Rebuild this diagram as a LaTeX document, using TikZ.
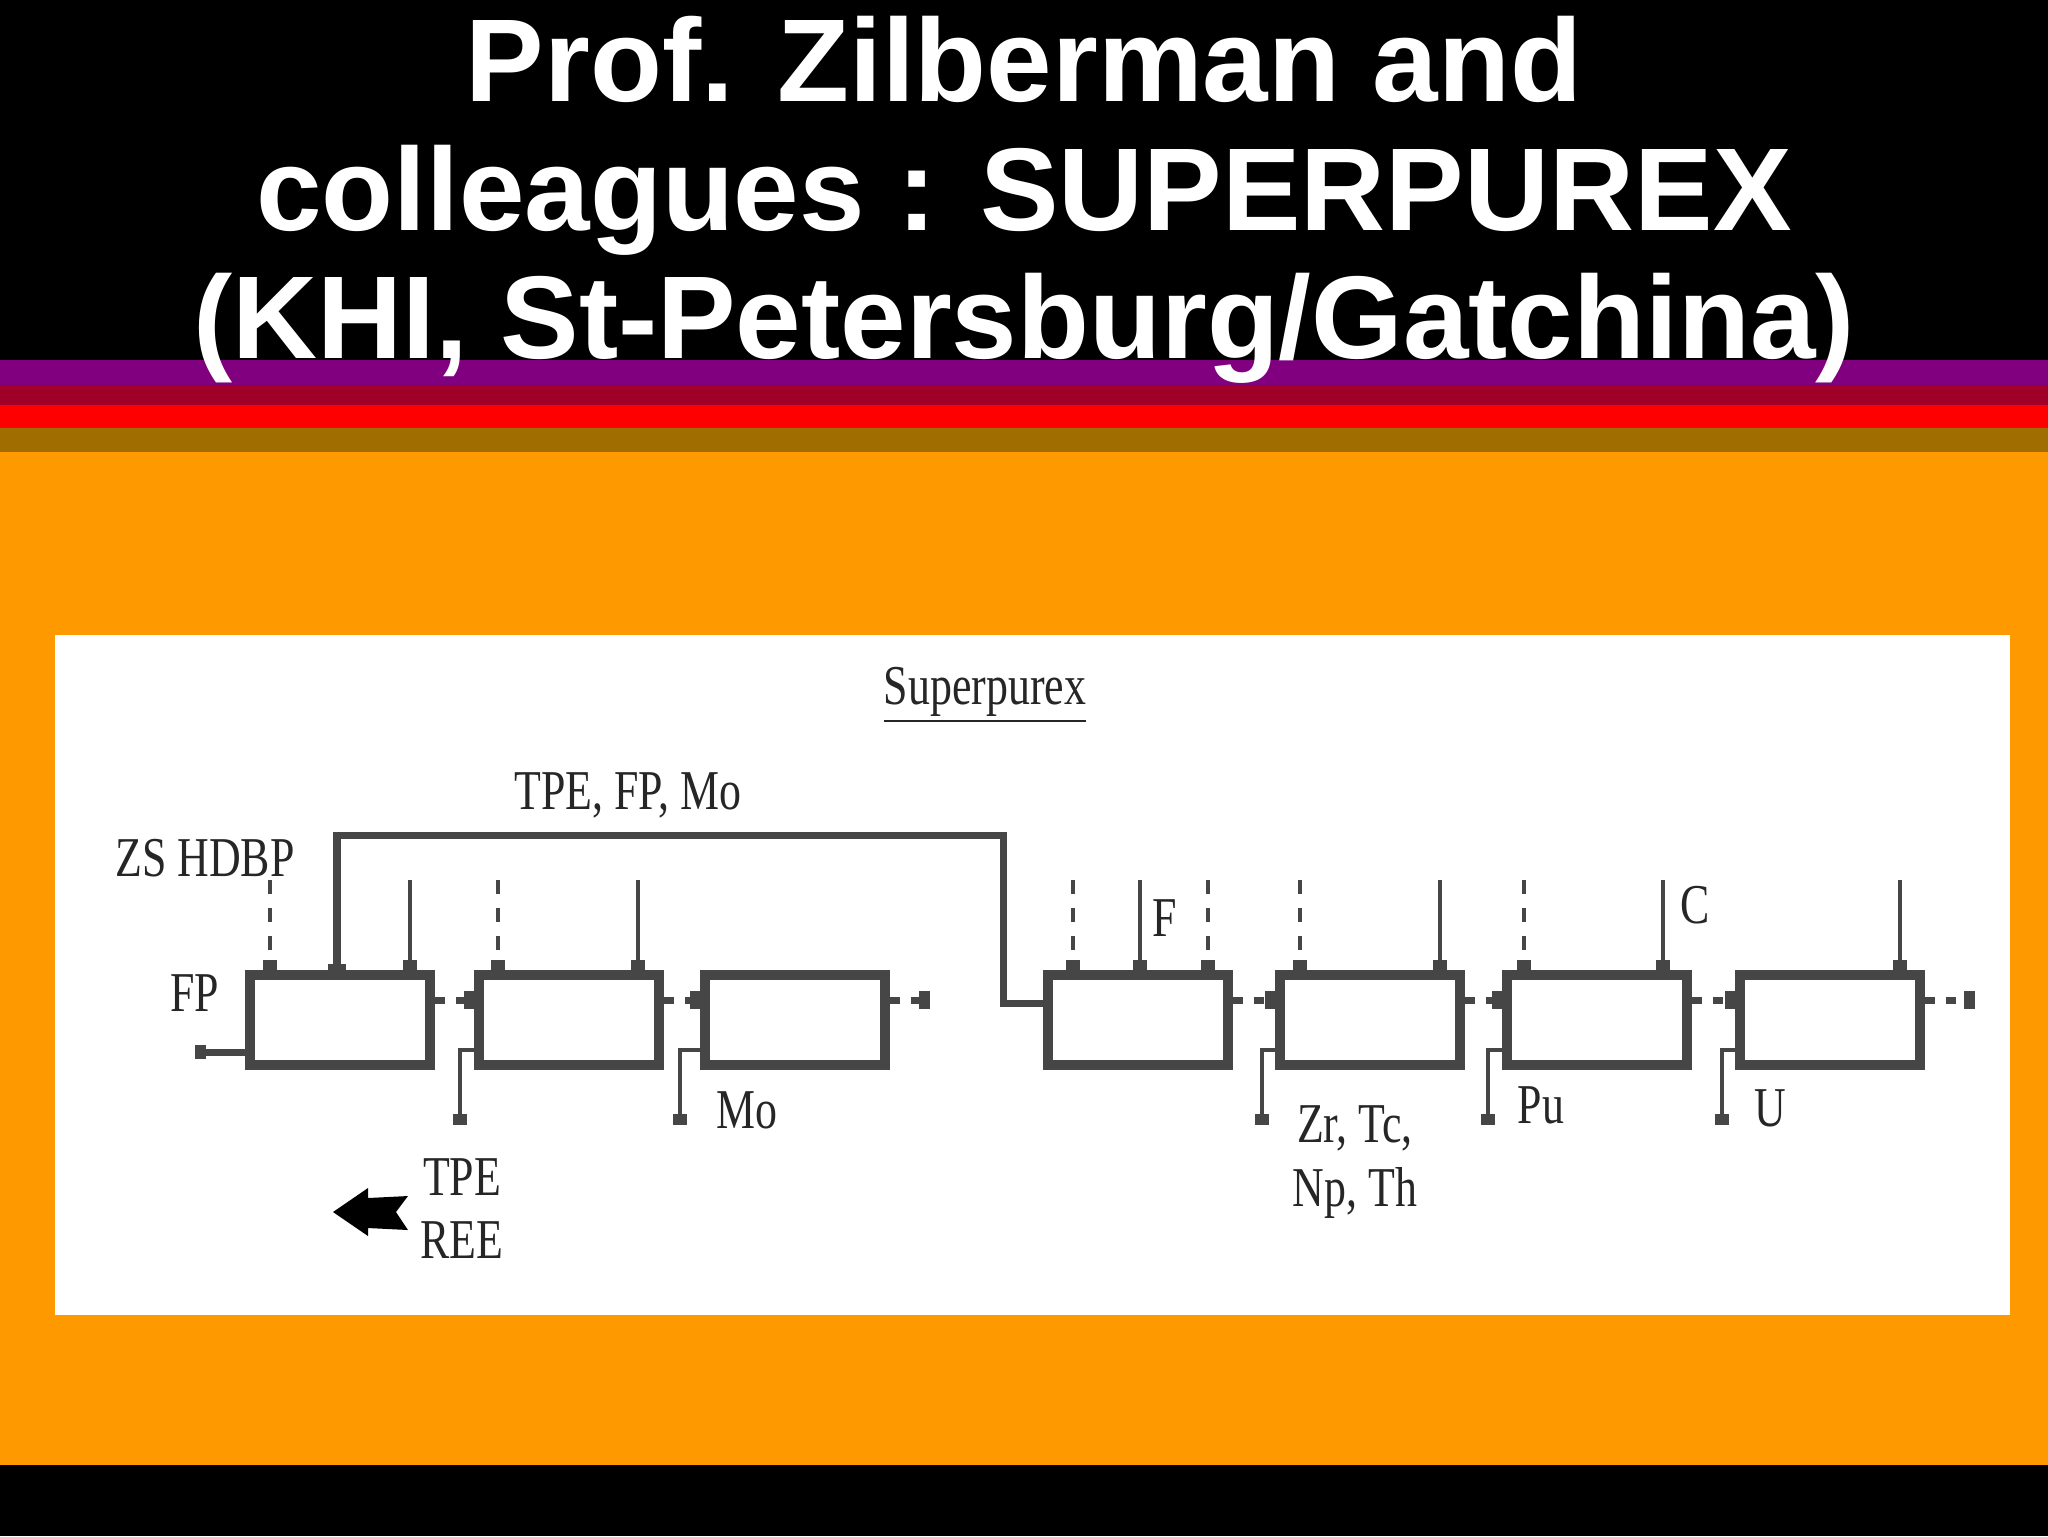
\documentclass[tikz,border=0pt]{standalone}
\usepackage{fontspec}
\setmainfont{Liberation Serif}
\newfontfamily\titlefont{Liberation Sans}
\usetikzlibrary{arrows.meta}
\definecolor{bgorange}{RGB}{255,153,0}
\definecolor{stpurple}{RGB}{128,0,128}
\definecolor{stdred}{RGB}{160,0,40}
\definecolor{stred}{RGB}{255,0,0}
\definecolor{stgold}{RGB}{160,110,0}
\definecolor{ln}{RGB}{70,70,70}
\tikzset{
  unitbox/.style={draw=ln,line width=2.6pt,fill=white,minimum width=18mm,minimum height=9mm,inner sep=0pt},
  feed/.style={draw=ln,line width=1.3pt,-{Rectangle[width=4pt,length=3pt]}},
  dfeed/.style={feed,dash pattern=on 4pt off 4pt},
  link/.style={draw=ln,line width=2pt,dash pattern=on 3pt off 3pt,-{Rectangle[width=5pt,length=3pt]}},
  lbl/.style={font=\fontsize{16}{16}\selectfont,text=black!85,xscale=0.78,inner sep=0pt},
  ttl/.style={font=\titlefont\bfseries\fontsize{33.5}{36.5}\selectfont,text=white,align=center}
}
\begin{document}
\begin{tikzpicture}[x=0.1mm,y=-0.1mm]
\useasboundingbox (0,0) rectangle (2048,1536);
\fill[black] (0,0) rectangle (2048,360);
\fill[stpurple] (0,360) rectangle (2048,385);
\fill[stdred] (0,385) rectangle (2048,405);
\fill[stred] (0,405) rectangle (2048,428);
\fill[stgold] (0,428) rectangle (2048,452);
\fill[bgorange] (0,452) rectangle (2048,1465);
\fill[black] (0,1465) rectangle (2048,1536);
\node[ttl] (title) at (1024,200) {Prof. Zilberman and\\colleagues : SUPERPUREX\\(KHI, St-Petersburg/Gatchina)};
\fill[white] (55,635) rectangle (2010,1315);
% boxes
\node[unitbox] (b1) at (340,1020) {};
\node[unitbox] (b2) at (569,1020) {};
\node[unitbox] (b3) at (795,1020) {};
\node[unitbox] (b4) at (1138,1020) {};
\node[unitbox] (b5) at (1370,1020) {};
\node[unitbox] (b6) at (1597,1020) {};
\node[unitbox] (b7) at (1830,1020) {};
% inter-stage links
\foreach \a/\b in {b1/b2,b2/b3,b4/b5,b5/b6,b6/b7}{
  \draw[link] (\a.east |- 0,1000) -- (\b.west |- 0,1000);}
\coordinate (e3) at (930,1000);
\coordinate (e7) at (1975,1000);
\draw[link] (b3.east |- 0,1000) -- (e3);
\draw[link] (b7.east |- 0,1000) -- (e7);
% feeds
\coordinate (f1a) at (270,880); \draw[dfeed] (f1a) -- (f1a |- b1.north);
\coordinate (f1c) at (410,880); \draw[feed] (f1c) -- (f1c |- b1.north);
\coordinate (f2a) at (498,880); \draw[dfeed] (f2a) -- (f2a |- b2.north);
\coordinate (f2b) at (638,880); \draw[feed] (f2b) -- (f2b |- b2.north);
\coordinate (f4a) at (1073,880); \draw[dfeed] (f4a) -- (f4a |- b4.north);
\coordinate (f4b) at (1140,880); \draw[feed] (f4b) -- (f4b |- b4.north);
\coordinate (f4c) at (1208,880); \draw[dfeed] (f4c) -- (f4c |- b4.north);
\coordinate (f5a) at (1300,880); \draw[dfeed] (f5a) -- (f5a |- b5.north);
\coordinate (f5b) at (1440,880); \draw[feed] (f5b) -- (f5b |- b5.north);
\coordinate (f6a) at (1524,880); \draw[dfeed] (f6a) -- (f6a |- b6.north);
\coordinate (f6b) at (1663,880); \draw[feed] (f6b) -- (f6b |- b6.north);
\coordinate (f7b) at (1900,880); \draw[feed] (f7b) -- (f7b |- b7.north);
% recycle loop
\draw[draw=ln,line width=2pt,-{Rectangle[width=5pt,length=3pt]}] (b4.west |- 0,1003) -- (1003,1003) -- (1003,835) -- (337,835) -- (337,975);
% outlets
\coordinate (o1) at (195,1052);
\draw[feed,line width=2pt] (b1.west |- 0,1052) -- (o1);
\foreach \b/\x in {b2/460,b3/680,b5/1262,b6/1488,b7/1722}{
  \draw[feed] (\b.west |- 0,1050) -- (\x,1050) -- (\x,1125);}
% labels
\node[lbl] (sp) at (985,695) {\underline{Superpurex}};
\node[lbl] (l1) at (628,795) {TPE, FP, Mo};
\node[lbl] (l2) at (205,858) {ZS HDBP};
\node[lbl] (l3) at (195,993) {FP};
\node[lbl] (l4) at (747,1110) {Mo};
\node[lbl] (l5) at (462,1177) {TPE};
\node[lbl] (l6) at (462,1240) {REE};
\node[lbl] (l7) at (1355,1128) {Zr, Tc,};
\node[lbl] (l8) at (1355,1193) {Np, Th};
\node[lbl] (l9) at (1541,1105) {Pu};
\node[lbl] (l10) at (1770,1108) {U};
\node[lbl] (l11) at (1165,918) {F};
\node[lbl] (l12) at (1695,905) {C};
% big arrow
\fill[black] (333,1212) -- (368,1188) -- (368,1198) -- (408,1196) -- (396,1212) -- (408,1230) -- (368,1228) -- (368,1236) -- cycle;
\end{tikzpicture}
\end{document}
